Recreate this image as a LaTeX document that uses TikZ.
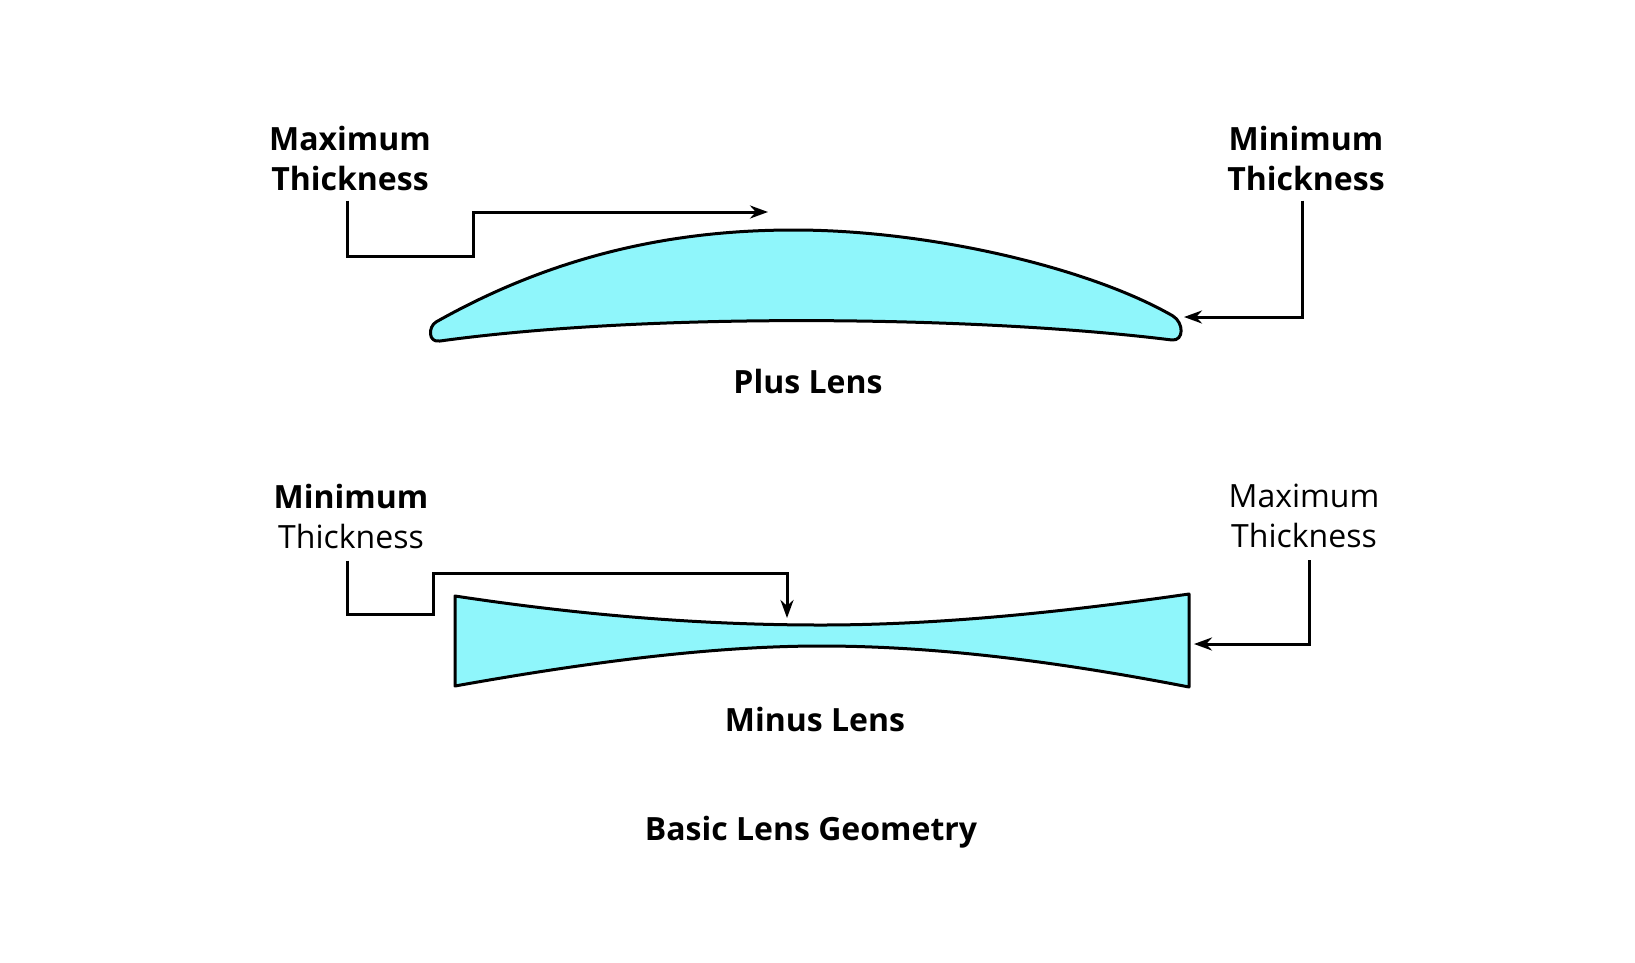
\documentclass[tikz,border=0pt]{standalone}
\usepackage{fontspec}
\setmainfont{Open Sans}
\usetikzlibrary{arrows.meta}
\definecolor{lensblue}{HTML}{8FF6FB}
\tikzset{
  lbl/.style={align=center, font=\fontsize{32}{40}\selectfont\bfseries, inner sep=0pt},
  lbltwo/.style={align=center, font=\fontsize{32}{40}\selectfont, inner sep=0pt},
  lens/.style={draw=black, fill=lensblue, line width=3pt, line join=round},
  lead/.style={draw=black, line width=3pt, -{Stealth[length=18pt,width=13pt]}}
}
\begin{document}
\begin{tikzpicture}[x=1pt,y=-1pt]
	\useasboundingbox (0,0) rectangle (1635,962);
	% plus lens
	\draw [lens] (436,322) .. controls (560,252) and (680,230) .. (794,230)
	  .. controls (930,230) and (1090,268) .. (1173,316)
	  .. controls (1184,323) and (1184,341) .. (1172,340)
	  .. controls (980,316) and (650,312) .. (440,341)
	  .. controls (428,343) and (428,327) .. cycle;
	\node [lbl] (pluslbl) at (808,381) {Plus Lens};
	\node [lbl] (pmax) at (350,158) {Maximum\\Thickness};
	\node [lbl] (pmin) at (1306,158) {Minimum\\Thickness};
	\coordinate (pmaxtip) at (768,212);
	\coordinate (pmintip) at (1184,317);
	\draw [lead] (pmax.south) ++(-3,10) |- (473,256) |- (pmaxtip);
	\draw [lead] (pmin.south) ++(-4,10) |- (pmintip);
	% minus lens
	\draw [lens] (455,596) .. controls (600,618) and (720,625) .. (821,625)
	  .. controls (930,625) and (1050,614) .. (1189,594)
	  -- (1189,687) .. controls (1050,660) and (930,646) .. (821,646)
	  .. controls (720,646) and (600,660) .. (455,686) -- cycle;
	\node [lbl] (minuslbl) at (815,719) {Minus Lens};
	\node [lbltwo] (mmin) at (351,516) {\textbf{Minimum}\\Thickness};
	\node [lbltwo] (mmax) at (1304,516) {Maximum\\Thickness};
	\coordinate (mmintip) at (787,618);
	\coordinate (mmaxtip) at (1194,644);
	\draw [lead] (mmin.south) ++(-4,12) |- (433,614) |- (787,573) -- (mmintip);
	\draw [lead] (mmax.south) ++(5,12) |- (mmaxtip);
	\node [lbl] (title) at (811,832) {Basic Lens Geometry};
\end{tikzpicture}
\end{document}
